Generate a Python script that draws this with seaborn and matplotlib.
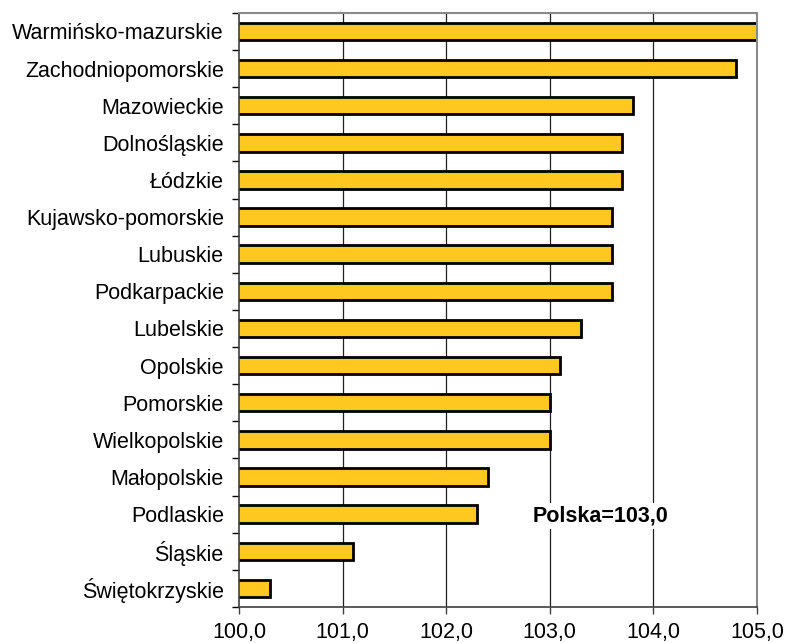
import numpy as np
import pandas as pd
import seaborn as sns
import matplotlib.pyplot as plt
from matplotlib.ticker import FixedLocator


regions = ['Warmińsko-mazurskie', 'Zachodniopomorskie', 'Mazowieckie', 'Dolnośląskie',
           'Łódzkie', 'Kujawsko-pomorskie', 'Lubuskie', 'Podkarpackie', 'Lubelskie',
           'Opolskie', 'Pomorskie', 'Wielkopolskie', 'Małopolskie', 'Podlaskie',
           'Śląskie', 'Świętokrzyskie']
values = [105.0, 104.8, 103.8, 103.7, 103.7, 103.6, 103.6, 103.6, 103.3,
          103.1, 103.0, 103.0, 102.4, 102.3, 101.1, 100.3]
x_ticks = [100, 101, 102, 103, 104, 105]
note = 'Polska=103,0'

df = pd.DataFrame({'region': regions, 'value': values})

sns.set_style('white', {'xtick.bottom': True, 'ytick.left': True,
                        'text.color': 'black', 'xtick.color': 'black',
                        'ytick.color': 'black'})
plt.rcParams['font.family'] = ['Liberation Sans', 'DejaVu Sans']

fig = plt.figure(figsize=(7.85, 6.43), dpi=100)
ax = fig.add_axes([0.3045, 0.056, 0.6598, 0.924])

# vertical grid lines behind the bars
for xv in x_ticks[1:-1]:
    ax.axvline(xv, color='#202020', lw=0.9, zorder=0)

sns.barplot(data=df, x='value', y='region', orient='h', color='#FFC820',
            saturation=1, width=0.47, edgecolor='black', linewidth=2.0, ax=ax, zorder=2)

ax.set_xlim(100, 105)
ax.set_ylim(len(regions) - 0.5, -0.5)
ax.set_xticks(x_ticks)
ax.set_xticklabels([f'{v:.1f}'.replace('.', ',') for v in x_ticks], fontsize=15.5)
ax.set_xlabel('')
ax.set_ylabel('')
ax.tick_params(axis='y', which='major', length=0, labelsize=15.5, pad=11, labelcolor='black')
ax.tick_params(axis='x', length=5, width=1, color='#404040', direction='out', pad=6,
               labelcolor='black')
ax.yaxis.set_minor_locator(FixedLocator(np.arange(-0.5, len(regions), 1)))
ax.tick_params(axis='y', which='minor', length=5, width=1, color='black', direction='out')

for side in ['top', 'right']:
    ax.spines[side].set_color('#8a8a8a')
    ax.spines[side].set_linewidth(1.5)
for side in ['left', 'bottom']:
    ax.spines[side].set_color('#404040')
    ax.spines[side].set_linewidth(1.2)

ax.text(102.83, 13.05, note, fontsize=15.5, fontweight='bold', va='center', ha='left',
        color='black', zorder=3, bbox=dict(facecolor='white', edgecolor='none', pad=2))

plt.savefig('out.png', dpi=100)
